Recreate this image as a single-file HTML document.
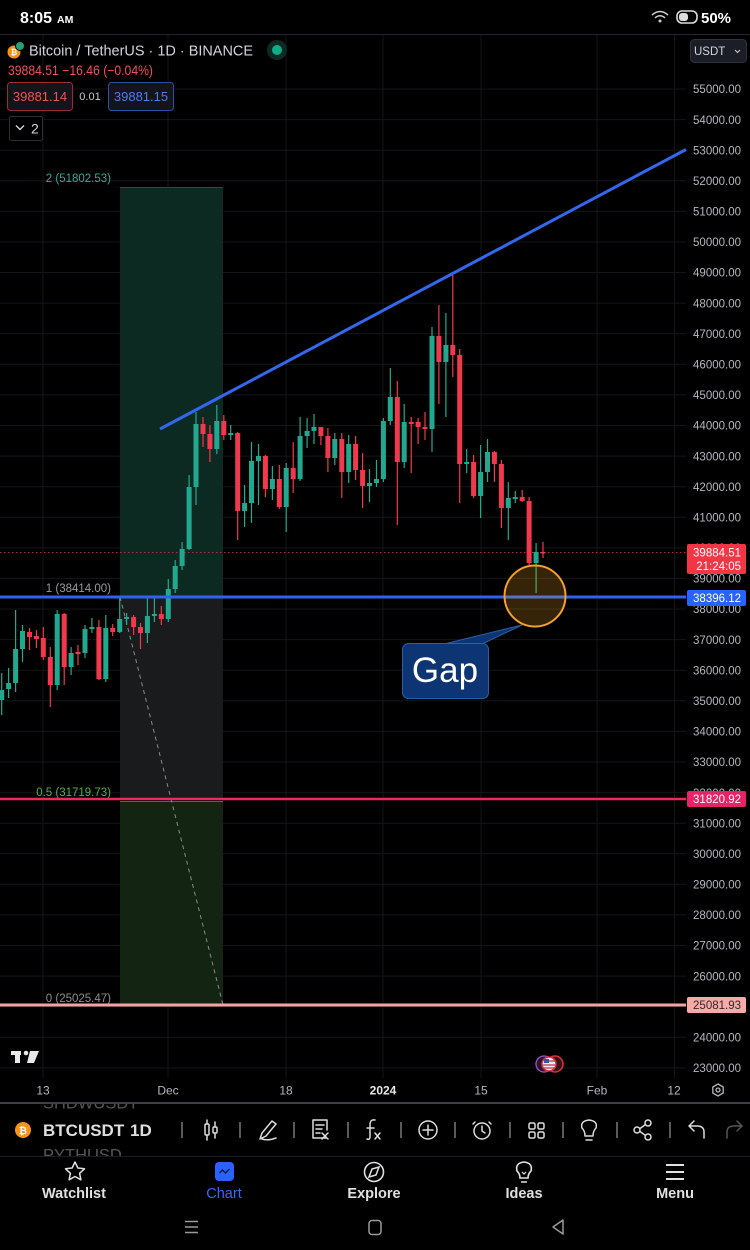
<!DOCTYPE html>
<html><head><meta charset="utf-8"><style>
html,body{margin:0;padding:0;background:#000;}
svg{display:block;}
text{font-family:"Liberation Sans",sans-serif;}
</style></head><body>
<svg width="750" height="1250" viewBox="0 0 750 1250" xmlns="http://www.w3.org/2000/svg">
<defs>
<clipPath id="tb"><rect x="0" y="1104" width="750" height="52"/></clipPath>
</defs>
<rect width="750" height="1250" fill="#000"/>

<!-- status bar -->
<text x="20" y="23" font-size="16" font-weight="bold" fill="#fff">8:05</text>
<text x="57" y="23" font-size="10.5" font-weight="bold" fill="#fff">AM</text>
<g fill="none" stroke="#ccc" stroke-width="1.5">
<path d="M652 15 Q660 8 668 15"/><path d="M655 18 Q660 13.5 665 18"/>
</g>
<circle cx="660" cy="21" r="1.5" fill="#ccc"/>
<rect x="677" y="11" width="20" height="12" rx="5" fill="none" stroke="#ddd" stroke-width="1.6"/>
<rect x="679" y="13" width="9" height="8" rx="3" fill="#ddd"/>
<text x="701" y="23" font-size="15" font-weight="bold" fill="#fff">50%</text>
<line x1="0" y1="34.5" x2="750" y2="34.5" stroke="#23262e" stroke-width="1"/>

<!-- grid -->
<g stroke="#131519" stroke-width="1">
<path d="M0 89H686M0 119.6H686M0 150.2H686M0 180.8H686M0 211.4H686M0 242H686M0 272.5H686M0 303.1H686M0 333.7H686M0 364.3H686M0 394.9H686M0 425.5H686M0 456.1H686M0 486.7H686M0 517.3H686M0 547.9H686M0 578.4H686M0 609H686M0 639.6H686M0 670.2H686M0 700.8H686M0 731.4H686M0 762H686M0 792.6H686M0 823.2H686M0 853.8H686M0 884.3H686M0 914.9H686M0 945.5H686M0 976.1H686M0 1006.7H686M0 1037.3H686M0 1067.9H686"/>
<path d="M43 35V1078M168 35V1078M286 35V1078M383 35V1078M481 35V1078M597 35V1078M674.5 35V1078"/>
</g>

<!-- fib/range boxes -->
<rect x="120" y="187" width="103" height="410" fill="#0c2a22"/>
<line x1="120" y1="187.5" x2="223" y2="187.5" stroke="#1b5046" stroke-width="1"/>
<rect x="120" y="597" width="103" height="202" fill="#1a1b1d"/>
<rect x="120" y="801" width="103" height="206" fill="#132413"/>
<line x1="120" y1="801.5" x2="223" y2="801.5" stroke="#3a7a3a" stroke-width="1"/>
<line x1="120" y1="597" x2="223" y2="1005" stroke="#8a8a8a" stroke-width="1" stroke-dasharray="4 4"/>

<!-- fib labels -->
<text x="111" y="182" font-size="11.5" fill="#3fa597" text-anchor="end">2 (51802.53)</text>
<text x="111" y="592" font-size="11.5" fill="#9a9a9a" text-anchor="end">1 (38414.00)</text>
<text x="111" y="796" font-size="11.5" fill="#4caf50" text-anchor="end">0.5 (31719.73)</text>
<text x="111" y="1002" font-size="11.5" fill="#8d8d8d" text-anchor="end">0 (25025.47)</text>

<!-- current price dotted line -->
<line x1="0" y1="552.5" x2="686" y2="552.5" stroke="#b3303c" stroke-width="1" stroke-dasharray="1.5 2.5"/>

<!-- candles: wicks -->
<path stroke="#22a88f" stroke-width="1.2" fill="none" d="M1.7 673V715M8.6 668V698M15.6 610V692M22.5 625V662M57.2 610V690M71.1 647V675M85 625V658M91.9 618V633M105.8 615V682M119.7 598V633M126.6 613V625M147.4 597V643M154.4 598V622M168.3 579V622M175.2 560V593M182.1 542V570M189.1 475V550M196 412V505M216.8 405V454M230.7 425V440M244.6 485V527M251.5 442V523M258.5 444V505M272.4 466V500M286.2 463V532M300.1 417V481M307.1 418V448M314 414V444M334.8 433V465M348.7 435V483M369.5 469V502M376.5 460V487M383.4 418V482M390.3 368V425M404.2 404V468M432 327V452M445.9 313V417M466.7 449V473M480.6 445V518M487.5 439V482M508.3 482V540M515.3 491V503M536.1 543V593"/>
<path stroke="#f0394c" stroke-width="1.2" fill="none" d="M29.5 628V650M36.4 630V648M43.3 627V660M50.3 647V707M64.2 613V685M78 645V665M98.9 620V680M112.7 624V636M133.6 615V635M140.5 623V649M161.3 606V625M203 417V447M209.9 425V462M223.8 415V440M237.7 432V540M265.4 455V497M279.3 465V509M293.2 442V493M320.9 427V445M327.9 428V472M341.8 433V498M355.6 436V480M362.6 453V508M397.3 381V525M411.2 417V473M418.1 418V444M425 412V440M438.9 305V404M452.8 275V377M459.7 349V503M473.6 455V498M494.4 451V482M501.4 460V528M522.2 490V502M529.1 497V565M543 542V558"/>
<!-- candles: bodies -->
<g fill="#22a88f">
<rect x="-0.8" y="690" width="5" height="10"/><rect x="6.1" y="683" width="5" height="6"/><rect x="13.1" y="649" width="5" height="34"/><rect x="20" y="631" width="5" height="18"/><rect x="54.7" y="614" width="5" height="71"/><rect x="68.6" y="653" width="5" height="14"/><rect x="82.5" y="629" width="5" height="24"/><rect x="89.4" y="627" width="5" height="2"/><rect x="103.3" y="628" width="5" height="51"/><rect x="117.2" y="619" width="5" height="13"/><rect x="124.1" y="617" width="5" height="2"/><rect x="144.9" y="616" width="5" height="17"/><rect x="151.9" y="614" width="5" height="2"/><rect x="165.8" y="589" width="5" height="30"/><rect x="172.7" y="566" width="5" height="23"/><rect x="179.6" y="549" width="5" height="17"/><rect x="186.6" y="487" width="5" height="62"/><rect x="193.5" y="424" width="5" height="63"/><rect x="214.3" y="421" width="5" height="28"/><rect x="228.2" y="433" width="5" height="2"/><rect x="242.1" y="503" width="5" height="8"/><rect x="249" y="461" width="5" height="42"/><rect x="256" y="456" width="5" height="5"/><rect x="269.9" y="479" width="5" height="10"/><rect x="283.7" y="468" width="5" height="39"/><rect x="297.6" y="436" width="5" height="43"/><rect x="304.6" y="431" width="5" height="5"/><rect x="311.5" y="427" width="5" height="4"/><rect x="332.3" y="439" width="5" height="19"/><rect x="346.2" y="444" width="5" height="28"/><rect x="367" y="483" width="5" height="3"/><rect x="374" y="479" width="5" height="4"/><rect x="380.9" y="421" width="5" height="58"/><rect x="387.8" y="397" width="5" height="24"/><rect x="401.7" y="422" width="5" height="40"/><rect x="429.5" y="336" width="5" height="93"/><rect x="443.4" y="345" width="5" height="17"/><rect x="464.2" y="462" width="5" height="2"/><rect x="478.1" y="472" width="5" height="24"/><rect x="485" y="452" width="5" height="20"/><rect x="505.8" y="498" width="5" height="10"/><rect x="512.8" y="497" width="5" height="2"/><rect x="533.6" y="552" width="5" height="11"/>
</g>
<g fill="#f0394c">
<rect x="27" y="632" width="5" height="5"/><rect x="33.9" y="636" width="5" height="3"/><rect x="40.8" y="638" width="5" height="19"/><rect x="47.8" y="657" width="5" height="28"/><rect x="61.7" y="614" width="5" height="53"/><rect x="75.5" y="652" width="5" height="2"/><rect x="96.4" y="627" width="5" height="52"/><rect x="110.2" y="628" width="5" height="4"/><rect x="131.1" y="617" width="5" height="10"/><rect x="138" y="627" width="5" height="6"/><rect x="158.8" y="614" width="5" height="5"/><rect x="200.5" y="424" width="5" height="10"/><rect x="207.4" y="434" width="5" height="15"/><rect x="221.3" y="421" width="5" height="14"/><rect x="235.2" y="433" width="5" height="78"/><rect x="262.9" y="456" width="5" height="33"/><rect x="276.8" y="479" width="5" height="28"/><rect x="290.7" y="468" width="5" height="11"/><rect x="318.4" y="427" width="5" height="9"/><rect x="325.4" y="436" width="5" height="22"/><rect x="339.3" y="439" width="5" height="33"/><rect x="353.1" y="444" width="5" height="26"/><rect x="360.1" y="470" width="5" height="16"/><rect x="394.8" y="397" width="5" height="65"/><rect x="408.7" y="422" width="5" height="2"/><rect x="415.6" y="422" width="5" height="5"/><rect x="422.5" y="427" width="5" height="2"/><rect x="436.4" y="336" width="5" height="26"/><rect x="450.3" y="345" width="5" height="10"/><rect x="457.2" y="355" width="5" height="109"/><rect x="471.1" y="462" width="5" height="34"/><rect x="491.9" y="452" width="5" height="12"/><rect x="498.9" y="464" width="5" height="44"/><rect x="519.7" y="497" width="5" height="4"/><rect x="526.6" y="501" width="5" height="62"/><rect x="540.5" y="552" width="5" height="1.5"/>
</g>

<!-- horizontal lines -->
<line x1="0" y1="597" x2="686" y2="597" stroke="#2f62ee" stroke-width="3"/>
<line x1="0" y1="799" x2="686" y2="799" stroke="#e3305a" stroke-width="2.5"/>
<line x1="0" y1="1005" x2="686" y2="1005" stroke="#f4a3a3" stroke-width="3"/>

<!-- trend line -->
<line x1="160" y1="429" x2="686" y2="149.5" stroke="#3267ee" stroke-width="3"/>

<!-- gap circle and callout -->
<circle cx="535" cy="596" r="30.5" fill="#f5a623" fill-opacity="0.22" stroke="#f5a028" stroke-width="2"/>
<polygon points="440,645 480,645 522,625" fill="#0d3573" stroke="#2b5ea8" stroke-width="1"/>
<rect x="402.5" y="643.5" width="86" height="55" rx="6" fill="#0d3573" stroke="#2b5ea8" stroke-width="1"/>
<rect x="441" y="644.5" width="38" height="3" fill="#0d3573"/>
<text x="445" y="682" font-size="35" fill="#ffffff" text-anchor="middle">Gap</text>

<!-- price axis labels -->
<g font-size="11.5" fill="#b4b7bf" text-anchor="end">
<text x="741" y="93.2">55000.00</text><text x="741" y="123.8">54000.00</text><text x="741" y="154.4">53000.00</text><text x="741" y="185">52000.00</text><text x="741" y="215.6">51000.00</text><text x="741" y="246.2">50000.00</text><text x="741" y="276.7">49000.00</text><text x="741" y="307.3">48000.00</text><text x="741" y="337.9">47000.00</text><text x="741" y="368.5">46000.00</text><text x="741" y="399.1">45000.00</text><text x="741" y="429.7">44000.00</text><text x="741" y="460.3">43000.00</text><text x="741" y="490.9">42000.00</text><text x="741" y="521.5">41000.00</text><text x="741" y="552">40000.00</text><text x="741" y="582.6">39000.00</text><text x="741" y="613.2">38000.00</text><text x="741" y="643.8">37000.00</text><text x="741" y="674.4">36000.00</text><text x="741" y="705">35000.00</text><text x="741" y="735.6">34000.00</text><text x="741" y="766.2">33000.00</text><text x="741" y="796.8">32000.00</text><text x="741" y="827.4">31000.00</text><text x="741" y="858">30000.00</text><text x="741" y="888.5">29000.00</text><text x="741" y="919.1">28000.00</text><text x="741" y="949.7">27000.00</text><text x="741" y="980.3">26000.00</text><text x="741" y="1010.9">25000.00</text><text x="741" y="1041.5">24000.00</text><text x="741" y="1072.1">23000.00</text>
</g>

<!-- price tags -->
<rect x="687" y="544" width="59" height="30" rx="2" fill="#f23645"/>
<text x="741" y="556.5" font-size="11.5" fill="#fff" text-anchor="end">39884.51</text>
<text x="741" y="570" font-size="11.5" fill="#fff" text-anchor="end">21:24:05</text>
<rect x="687" y="590" width="59" height="16" rx="2" fill="#2962ff"/>
<text x="741" y="602.2" font-size="11.5" fill="#fff" text-anchor="end">38396.12</text>
<rect x="687" y="791" width="59" height="16" rx="2" fill="#e62366"/>
<text x="741" y="803.2" font-size="11.5" fill="#fff" text-anchor="end">31820.92</text>
<rect x="687" y="997" width="59" height="16" rx="2" fill="#f8aaa8"/>
<text x="741" y="1009.2" font-size="11.5" fill="#2a2a2a" text-anchor="end">25081.93</text>

<!-- USDT dropdown -->
<rect x="690.5" y="39.5" width="56" height="23" rx="4" fill="#1b1e26" stroke="#2e323c" stroke-width="1"/>
<text x="694" y="55" font-size="11.5" fill="#d1d4dc">USDT</text>
<path d="M735 50 l2.5 2.5 l2.5 -2.5" fill="none" stroke="#c8c8c8" stroke-width="1.1"/>

<!-- legend -->
<circle cx="14" cy="52" r="6.5" fill="#f7931a"/>
<text x="14" y="55" font-size="8" font-weight="bold" fill="#fff" text-anchor="middle">₿</text>
<circle cx="20" cy="46" r="4.5" fill="#26a17b" stroke="#000" stroke-width="1"/>
<text x="29" y="55.5" font-size="15" fill="#d1d4dc" textLength="224" lengthAdjust="spacingAndGlyphs">Bitcoin / TetherUS · 1D · BINANCE</text>
<circle cx="277" cy="50" r="10" fill="#0e2a25"/>
<circle cx="277" cy="50" r="5" fill="#0cae8a"/>
<text x="8" y="75" font-size="13.5" fill="#f0505e" textLength="145" lengthAdjust="spacingAndGlyphs">39884.51  −16.46 (−0.04%)</text>
<rect x="7.5" y="82.5" width="65" height="28" rx="3" fill="#14151b" stroke="#9b2a35" stroke-width="1"/>
<text x="40" y="101" font-size="13" fill="#f0505e" text-anchor="middle">39881.14</text>
<text x="90" y="100" font-size="11" fill="#c8c8c8" text-anchor="middle">0.01</text>
<rect x="108.5" y="82.5" width="65" height="28" rx="3" fill="#14151b" stroke="#2c4fa5" stroke-width="1"/>
<text x="141" y="101" font-size="13" fill="#4c7cf2" text-anchor="middle">39881.15</text>
<rect x="9.5" y="116.5" width="33" height="24" rx="2" fill="#000" stroke="#2c2e34" stroke-width="1"/>
<path d="M16 125.5 l4 4 l4 -4" fill="none" stroke="#d1d4dc" stroke-width="1.4"/>
<text x="31" y="133.5" font-size="14" fill="#d1d4dc">2</text>

<!-- TV logo -->
<g fill="#e8e8e8">
<rect x="11" y="1051" width="10" height="4"/><rect x="15" y="1051" width="5" height="12"/>
<circle cx="26" cy="1053" r="2.3"/>
<polygon points="30,1051 39,1051 34,1063 27,1063"/>
</g>
<!-- flag icons -->
<circle cx="544" cy="1064" r="8" fill="#2a1430" stroke="#9b4fd0" stroke-width="1.3"/>
<circle cx="555" cy="1064" r="8" fill="#3a1015" stroke="#e03040" stroke-width="1.5"/>
<circle cx="549" cy="1064" r="7" fill="#e9e9f4" stroke="#d03040" stroke-width="1.5"/>
<rect x="544" y="1059" width="5" height="4" fill="#3355aa"/>
<path d="M549 1061h6M543 1065h12M543 1068h12" stroke="#d03040" stroke-width="1.2"/>

<!-- date axis -->
<g font-size="12" fill="#b4b7bf" text-anchor="middle">
<text x="43" y="1094.5">13</text><text x="168" y="1094.5">Dec</text><text x="286" y="1094.5">18</text>
<text x="383" y="1094.5" fill="#e8e8e8" font-weight="bold">2024</text>
<text x="481" y="1094.5">15</text><text x="597" y="1094.5">Feb</text><text x="674" y="1094.5">12</text>
</g>
<polygon points="718,1084 723.2,1087 723.2,1093 718,1096 712.8,1093 712.8,1087" fill="none" stroke="#b4b7bf" stroke-width="1.3"/>
<circle cx="718" cy="1090" r="2" fill="none" stroke="#b4b7bf" stroke-width="1.3"/>

<!-- toolbar ghost texts (clipped) -->
<g clip-path="url(#tb)" font-size="16.5" fill="#555">
<text x="43" y="1108.5">SHDWUSDT</text>
<text x="43" y="1160.5">PYTHUSD</text>
</g>
<line x1="0" y1="1103" x2="750" y2="1103" stroke="#3e4046" stroke-width="2"/>
<line x1="0" y1="1156.5" x2="750" y2="1156.5" stroke="#1c1d21" stroke-width="1"/>

<!-- toolbar -->
<circle cx="23" cy="1130" r="8" fill="#f7931a"/>
<text x="23" y="1134" font-size="10" font-weight="bold" fill="#fff" text-anchor="middle">₿</text>
<text x="43" y="1136" font-size="17" font-weight="bold" fill="#dedede">BTCUSDT</text>
<text x="130" y="1136" font-size="17" font-weight="bold" fill="#dedede">1D</text>
<g stroke="#8a8a8a" stroke-width="1.3">
<path d="M182 1122V1138M240 1122V1138M294 1122V1138M348 1122V1138M401 1122V1138M455 1122V1138M510 1122V1138M563 1122V1138M617 1122V1138M670 1122V1138"/>
</g>
<g fill="none" stroke="#dcdcdc" stroke-width="1.5" stroke-linecap="round" stroke-linejoin="round">
<rect x="205" y="1124" width="4" height="11" rx="1"/><path d="M207 1120V1124M207 1135V1140"/>
<rect x="213" y="1127" width="4" height="6" rx="1"/><path d="M215 1122V1127M215 1133V1138"/>
<path d="M260 1139 L262 1133 L272 1121 L276 1124 L266 1136 Z M262 1139 Q268 1141 276 1138"/>
<path d="M327 1138H313V1120H327V1130M316 1125H324M316 1129H322M316 1133H320M322 1133l6 6M328 1133l-6 6"/>
<path d="M375 1120 Q370 1119 370 1125 V1137 Q370 1140 367 1139 M367 1128H374M375 1133l5 6M380 1133l-5 6"/>
<circle cx="428" cy="1130" r="9"/><path d="M428 1125V1135M423 1130H433"/>
<circle cx="482" cy="1131" r="8"/><path d="M482 1126V1131L485 1133M475 1122l-2 2M489 1122l2 2"/>
<rect x="529" y="1123" width="6" height="6" rx="1.5"/><rect x="538" y="1123" width="6" height="6" rx="1.5"/><rect x="529" y="1132" width="6" height="6" rx="1.5"/><rect x="538" y="1132" width="6" height="6" rx="1.5"/>
<path d="M585 1136 Q585 1131 582 1128 Q580 1121 589 1120 Q598 1121 596 1128 Q593 1131 593 1136 Z M586 1140H592"/>
<circle cx="648" cy="1123" r="3"/><circle cx="637" cy="1130" r="3"/><circle cx="648" cy="1137" r="3"/><path d="M640 1128.5L645.5 1124.5M640 1131.5L645.5 1135.5"/>
<path d="M704 1138 V1132 Q704 1126 697 1126 H690 M694 1121 L689 1126 L694 1131"/>
</g>
<path d="M727 1138 V1132 Q727 1126 734 1126 H741 M737 1121 L742 1126 L737 1131" fill="none" stroke="#555" stroke-width="1.5" stroke-linecap="round" stroke-linejoin="round"/>

<!-- bottom nav -->
<polygon points="75,1162 77.9,1168 84.5,1168.8 79.6,1173.3 80.9,1179.8 75,1176.5 69.1,1179.8 70.4,1173.3 65.5,1168.8 72.1,1168" fill="none" stroke="#e0e0e0" stroke-width="1.5" stroke-linejoin="round"/>
<text x="74" y="1198" font-size="14.5" font-weight="bold" fill="#e0e0e0" text-anchor="middle">Watchlist</text>
<rect x="215" y="1162" width="19" height="19" rx="4" fill="#2962ff"/>
<path d="M219.5 1173 l3 -3 l3 3 l4 -4" fill="none" stroke="#0a1a50" stroke-width="1.4"/>
<text x="224" y="1198" font-size="14.5" fill="#2f6bff" text-anchor="middle">Chart</text>
<circle cx="374" cy="1172" r="9.5" fill="none" stroke="#e0e0e0" stroke-width="1.6"/>
<path d="M379 1167 L376 1175 L369 1177 L372 1169 Z" fill="none" stroke="#e0e0e0" stroke-width="1.5"/>
<text x="374" y="1198" font-size="14.5" font-weight="bold" fill="#e0e0e0" text-anchor="middle">Explore</text>
<path d="M520 1178 Q520 1174 517 1171 Q515 1163 524 1162 Q533 1163 531 1171 Q528 1174 528 1178 Z M521 1182H527" fill="none" stroke="#e0e0e0" stroke-width="1.6"/>
<path d="M522 1172 l2 2 l2 -2" fill="none" stroke="#e0e0e0" stroke-width="1.2"/>
<text x="524" y="1198" font-size="14.5" font-weight="bold" fill="#e0e0e0" text-anchor="middle">Ideas</text>
<path d="M666 1165H684M666 1172H684M666 1179H684" stroke="#e0e0e0" stroke-width="2"/>
<text x="675" y="1198" font-size="14.5" font-weight="bold" fill="#e0e0e0" text-anchor="middle">Menu</text>

<!-- system nav -->
<path d="M185 1221.5H198M185 1227H198M185 1232.5H198" stroke="#9a9a9a" stroke-width="1.5"/>
<rect x="369" y="1220.5" width="12" height="14" rx="3" fill="none" stroke="#9a9a9a" stroke-width="1.5"/>
<path d="M563 1220 L553 1227 L563 1234 Z" fill="none" stroke="#9a9a9a" stroke-width="1.5" stroke-linejoin="round"/>
</svg>
</body></html>
